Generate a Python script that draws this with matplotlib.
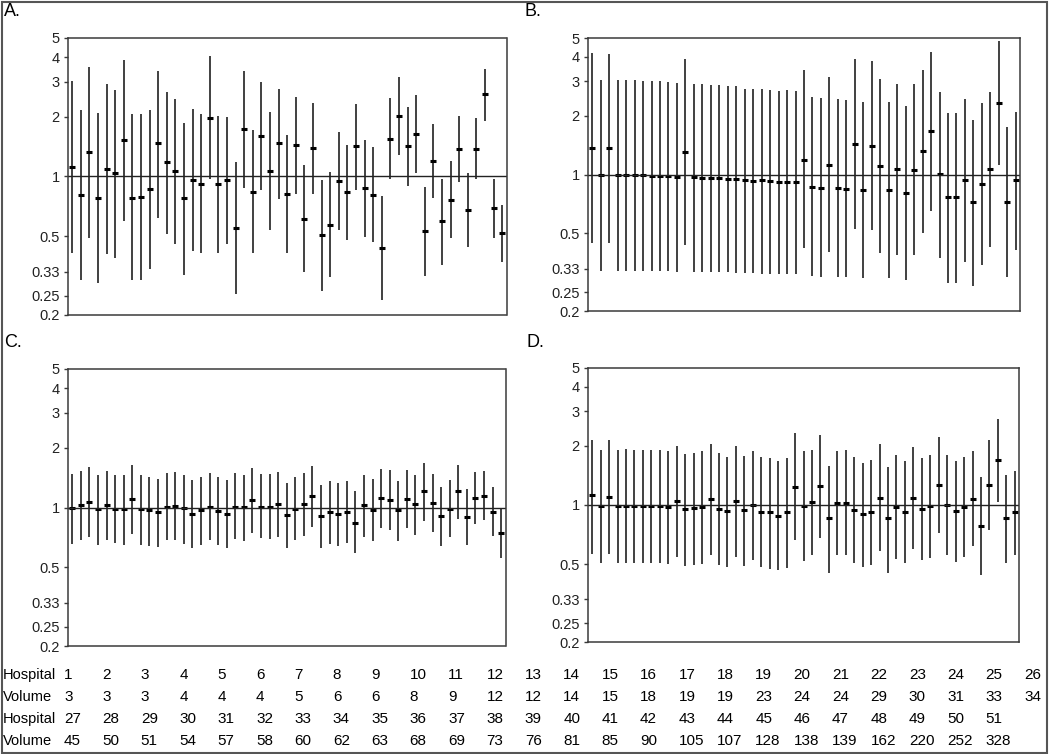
import numpy as np
import matplotlib
matplotlib.use("Agg")
import matplotlib.pyplot as plt
from matplotlib.patches import Rectangle

plt.rcParams['font.family'] = ['Liberation Sans', 'DejaVu Sans']

# odds ratio (estimate, lower, upper) per hospital, four panels
a_est = [1.12, 0.81, 1.33, 0.78, 1.09, 1.04, 1.525, 0.78, 0.79, 0.86,
         1.47, 1.18, 1.06, 0.78, 0.96, 0.92, 1.98, 0.92, 0.96, 0.55,
         1.73, 0.84, 1.60, 1.06, 1.47, 0.82, 1.45, 0.61, 1.40, 0.505,
         0.57, 0.95, 0.84, 1.42, 0.87, 0.81, 0.435, 1.54, 2.03, 1.42,
         1.64, 0.53, 1.20, 0.595, 0.76, 1.38, 0.68, 1.38, 2.60, 0.69, 0.52]
a_lo = [0.41, 0.30, 0.49, 0.29, 0.405, 0.39, 0.595, 0.30, 0.30, 0.34,
        0.62, 0.51, 0.455, 0.32, 0.42, 0.41, 0.97, 0.41, 0.455, 0.255,
        0.87, 0.41, 0.85, 0.54, 0.77, 0.41, 0.82, 0.33, 0.815, 0.265,
        0.31, 0.54, 0.48, 0.85, 0.495, 0.465, 0.237, 0.97, 1.29, 0.90,
        1.04, 0.315, 0.78, 0.357, 0.49, 0.94, 0.44, 0.97, 1.91, 0.49, 0.37]
a_hi = [3.03, 2.17, 3.57, 2.09, 2.92, 2.74, 3.89, 2.06, 2.06, 2.17,
        3.40, 2.67, 2.45, 1.86, 2.20, 2.07, 4.04, 2.03, 2.00, 1.18,
        3.40, 1.71, 3.00, 2.12, 2.78, 1.62, 2.52, 1.14, 2.36, 0.955,
        1.055, 1.67, 1.44, 2.33, 1.53, 1.41, 0.80, 2.49, 3.18, 2.23,
        2.58, 0.89, 1.85, 0.97, 1.20, 2.01, 1.04, 1.97, 3.49, 0.97, 0.72]

b_est = [1.37, 1.0, 1.37, 0.99, 0.99, 0.99, 0.99, 0.985, 0.985, 0.985,
         0.973, 1.31, 0.969, 0.965, 0.954, 0.954, 0.943, 0.943, 0.935, 0.921,
         0.932, 0.921, 0.91, 0.91, 0.91, 1.19, 0.865, 0.855, 1.125, 0.855,
         0.845, 1.44, 0.832, 1.40, 1.107, 0.832, 1.069, 0.803, 1.052, 1.32,
         1.67, 1.008, 0.763, 0.763, 0.932, 0.719, 0.899, 1.069, 2.335, 0.727, 0.932]
b_lo = [0.444, 0.32, 0.444, 0.32, 0.32, 0.32, 0.32, 0.32, 0.32, 0.32,
        0.318, 0.438, 0.318, 0.318, 0.315, 0.315, 0.315, 0.313, 0.313, 0.313,
        0.311, 0.311, 0.309, 0.309, 0.309, 0.418, 0.302, 0.297, 0.402, 0.297,
        0.297, 0.527, 0.294, 0.521, 0.396, 0.294, 0.387, 0.287, 0.387, 0.503,
        0.65, 0.372, 0.279, 0.279, 0.355, 0.267, 0.346, 0.427, 1.125, 0.297, 0.412]
b_hi = [4.21, 3.04, 4.16, 3.04, 3.04, 3.04, 3.01, 3.01, 3.01, 2.98,
        2.94, 3.90, 2.90, 2.90, 2.86, 2.86, 2.83, 2.83, 2.75, 2.73,
        2.75, 2.70, 2.68, 2.70, 2.67, 3.44, 2.50, 2.47, 3.16, 2.44,
        2.41, 3.90, 2.34, 3.81, 3.09, 2.34, 2.90, 2.24, 2.90, 3.44,
        4.26, 2.66, 2.075, 2.075, 2.44, 1.90, 2.32, 2.63, 4.83, 1.76, 2.09]

c_est = [0.99, 1.03, 1.068, 0.985, 1.027, 0.985, 0.985, 1.11, 0.985, 0.969,
         0.944, 1.008, 1.012, 0.992, 0.929, 0.966, 1.008, 0.955, 0.929, 1.008,
         1.004, 1.093, 1.008, 1.008, 1.039, 0.918, 0.985, 1.039, 1.145, 0.904,
         0.951, 0.929, 0.951, 0.840, 1.027, 0.966, 1.119, 1.093, 0.966, 1.106,
         1.039, 1.209, 1.052, 0.904, 0.988, 1.209, 0.894, 1.119, 1.149, 0.951, 0.742]
c_lo = [0.656, 0.682, 0.711, 0.649, 0.682, 0.659, 0.649, 0.734, 0.649, 0.641,
        0.633, 0.682, 0.682, 0.656, 0.626, 0.649, 0.682, 0.649, 0.626, 0.690,
        0.674, 0.742, 0.698, 0.693, 0.709, 0.626, 0.682, 0.717, 0.793, 0.626,
        0.656, 0.641, 0.663, 0.586, 0.709, 0.674, 0.784, 0.772, 0.674, 0.784,
        0.725, 0.853, 0.754, 0.641, 0.709, 0.877, 0.649, 0.824, 0.863, 0.717, 0.557]
c_hi = [1.472, 1.536, 1.597, 1.461, 1.536, 1.461, 1.461, 1.64, 1.461, 1.433,
        1.394, 1.495, 1.518, 1.461, 1.378, 1.422, 1.495, 1.422, 1.378, 1.495,
        1.461, 1.585, 1.472, 1.472, 1.518, 1.337, 1.422, 1.495, 1.628, 1.301,
        1.358, 1.337, 1.358, 1.213, 1.461, 1.389, 1.573, 1.554, 1.358, 1.554,
        1.461, 1.673, 1.479, 1.271, 1.373, 1.647, 1.242, 1.518, 1.536, 1.271, 0.985]

d_est = [1.121, 0.988, 1.103, 0.988, 0.988, 0.988, 0.988, 0.988, 0.988, 0.977,
         1.052, 0.950, 0.965, 0.977, 1.077, 0.954, 0.928, 1.052, 0.943, 1.004,
         0.917, 0.917, 0.882, 0.917, 1.236, 0.984, 1.040, 1.251, 0.855, 1.024,
         1.024, 0.939, 0.896, 0.917, 1.090, 0.855, 0.977, 0.917, 1.090, 0.954,
         0.988, 1.266, 1.0, 0.928, 0.977, 1.077, 0.781, 1.266, 1.706, 0.855, 0.917]
d_lo = [0.564, 0.503, 0.564, 0.503, 0.503, 0.503, 0.503, 0.503, 0.503, 0.499,
        0.544, 0.487, 0.493, 0.499, 0.553, 0.493, 0.482, 0.544, 0.487, 0.525,
        0.482, 0.474, 0.465, 0.476, 0.659, 0.521, 0.559, 0.675, 0.452, 0.553,
        0.553, 0.505, 0.484, 0.495, 0.581, 0.452, 0.531, 0.505, 0.596, 0.525,
        0.538, 0.716, 0.559, 0.513, 0.544, 0.619, 0.438, 0.745, 1.040, 0.505, 0.559]
d_hi = [2.15, 1.912, 2.135, 1.912, 1.934, 1.912, 1.912, 1.912, 1.912, 1.888,
        2.003, 1.831, 1.845, 1.888, 2.059, 1.845, 1.760, 2.003, 1.774, 1.888,
        1.760, 1.733, 1.679, 1.74, 2.343, 1.875, 1.919, 2.28, 1.589, 1.888,
        1.919, 1.760, 1.633, 1.699, 2.043, 1.571, 1.809, 1.679, 1.987, 1.74,
        1.809, 2.228, 1.809, 1.679, 1.767, 1.888, 1.385, 2.142, 2.753, 1.424, 1.498]

y_ticks = [0.2, 0.25, 0.33, 0.5, 1, 2, 3, 4, 5]
y_labels = ['0.2', '0.25', '0.33', '0.5', '1', '2', '3', '4', '5']

hospitals = list(range(1, 52))
volumes = [3, 3, 3, 4, 4, 4, 5, 6, 6, 8, 9, 12, 12, 14, 15, 18, 19, 19, 23, 24,
           24, 29, 30, 31, 33, 34, 45, 50, 51, 54, 57, 58, 60, 62, 63, 68, 69, 73,
           76, 81, 85, 90, 105, 107, 128, 138, 139, 162, 220, 252, 328]

W, H = 1050, 754
fig = plt.figure(figsize=(W / 100, H / 100), dpi=100)

# panel boxes in pixels: left, top, right, bottom
panels = [
    ('A.', (68, 38, 506.5, 315), a_est, a_lo, a_hi, (4, 12)),
    ('B.', (588, 38, 1020, 311), b_est, b_lo, b_hi, (525, 12)),
    ('C.', (68, 369, 505.5, 646), c_est, c_lo, c_hi, (4, 343)),
    ('D.', (588, 368, 1019, 642), d_est, d_lo, d_hi, (526, 343)),
]

edge = '#3a3a3a'
x = np.array(hospitals)
for label, (l, t, r, b), est, lo, hi, (lx, ly) in panels:
    ax = fig.add_axes([l / W, 1 - b / H, (r - l) / W, (b - t) / H])
    ax.set_yscale('log')
    ax.vlines(x, lo, hi, color='#404040', lw=1.4)
    ax.plot(x, est, ls='none', marker='_', ms=4.5, mew=2.2, color='black')
    ax.axhline(1, color='#222222', lw=1.0)
    ax.set_xlim(0.5, 51.5)
    ax.set_ylim(0.2, 5)
    ax.set_yticks(y_ticks)
    ax.set_yticklabels(y_labels)
    ax.yaxis.set_minor_locator(plt.NullLocator())
    ax.set_xticks([])
    ax.tick_params(axis='y', direction='out', length=3, width=1, color=edge,
                   labelsize=10.5, pad=3, labelcolor='#222222')
    for s in ax.spines.values():
        s.set_color(edge)
        s.set_linewidth(1.1)
    fig.text(lx / W, 1 - ly / H, label, fontsize=13, va='center', ha='left')

# hospital / volume table
row_y = [675, 697, 719, 741]
rows = [('Hospital', hospitals[:26]), ('Volume', volumes[:26]),
        ('Hospital', hospitals[26:]), ('Volume', volumes[26:])]
for yy, (name, vals) in zip(row_y, rows):
    fig.text(3 / W, 1 - yy / H, name, fontsize=10.5, va='center', ha='left')
    for i, v in enumerate(vals):
        fig.text((64 + 38.4 * i) / W, 1 - yy / H, str(v), fontsize=11,
                 va='center', ha='left')

# outer frame
fig.add_artist(Rectangle((1.5 / W, 1.5 / H), (W - 4.5) / W, (H - 3) / H,
                         transform=fig.transFigure, fill=False,
                         edgecolor='#555555', lw=1.5))

fig.savefig('out.png', dpi=100)
